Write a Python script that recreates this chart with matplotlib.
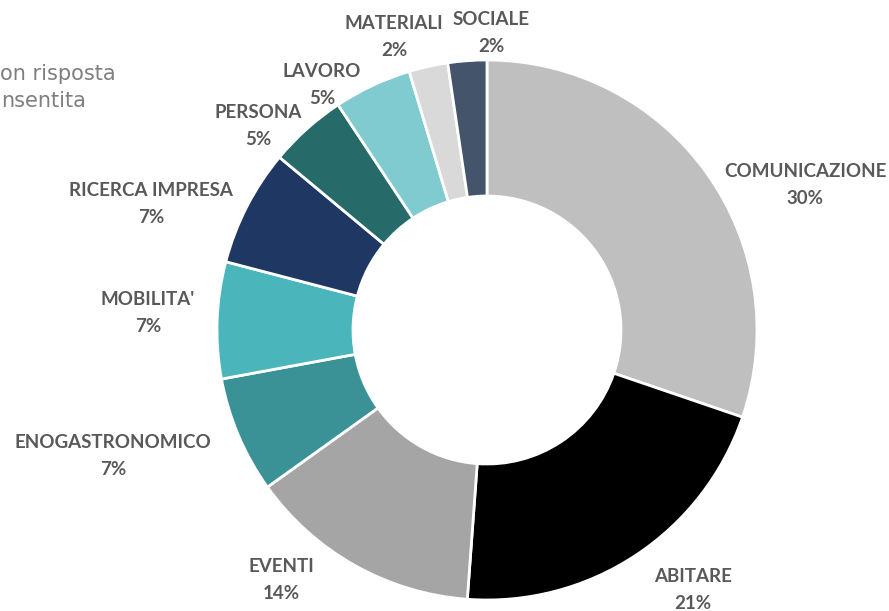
import matplotlib.pyplot as plt

categories = ["COMUNICAZIONE", "ABITARE", "EVENTI", "ENOGASTRONOMICO", "MOBILITA'",
              "RICERCA IMPRESA", "PERSONA", "LAVORO", "MATERIALI", "SOCIALE"]
counts = [13, 9, 6, 3, 3, 3, 2, 2, 1, 1]
colors = ["#bfbfbf", "#000000", "#a5a5a5", "#3a9296", "#4ab5bb",
          "#1f3763", "#266a69", "#7fcbcf", "#d9d9d9", "#44546a"]

# where excel put the labels (pixels from top-left)
label_pos = [(805, 185), (693, 590), (281, 580), (113, 456), (148, 313),
             (151, 204), (258, 126), (322, 85), (394, 37), (491, 33)]

W, H = 889, 611
fig = plt.figure(figsize=(W / 100, H / 100), dpi=100)
ax = fig.add_axes([0, 0, 1, 1])

cx, cy, r = 487, H - 330, 270
ax.pie(counts, colors=colors, startangle=90, counterclock=False,
       center=(cx, cy), radius=r, frame=True,
       wedgeprops=dict(width=136, edgecolor="white", linewidth=2))
ax.set_xlim(0, W)
ax.set_ylim(0, H)
ax.set_aspect("equal")
ax.axis("off")

total = sum(counts)
for name, c, (px, py) in zip(categories, counts, label_pos):
    pct = round(100 * c / total)
    ax.text(px, H - py, f"{name}\n{pct}%", ha="center", va="center",
            fontsize=13.5, fontweight="bold", color="#595959",
            family="Lato", linespacing=1.65)

# side note, cut by the left edge in the original
ax.text(0, H - 74, "on risposta", ha="left", va="center",
        fontsize=15, color="#7f7f7f", family="DejaVu Sans")
ax.text(1, H - 101, "nsentita", ha="left", va="center",
        fontsize=15, color="#7f7f7f", family="DejaVu Sans")

fig.savefig("out.png", dpi=100)
